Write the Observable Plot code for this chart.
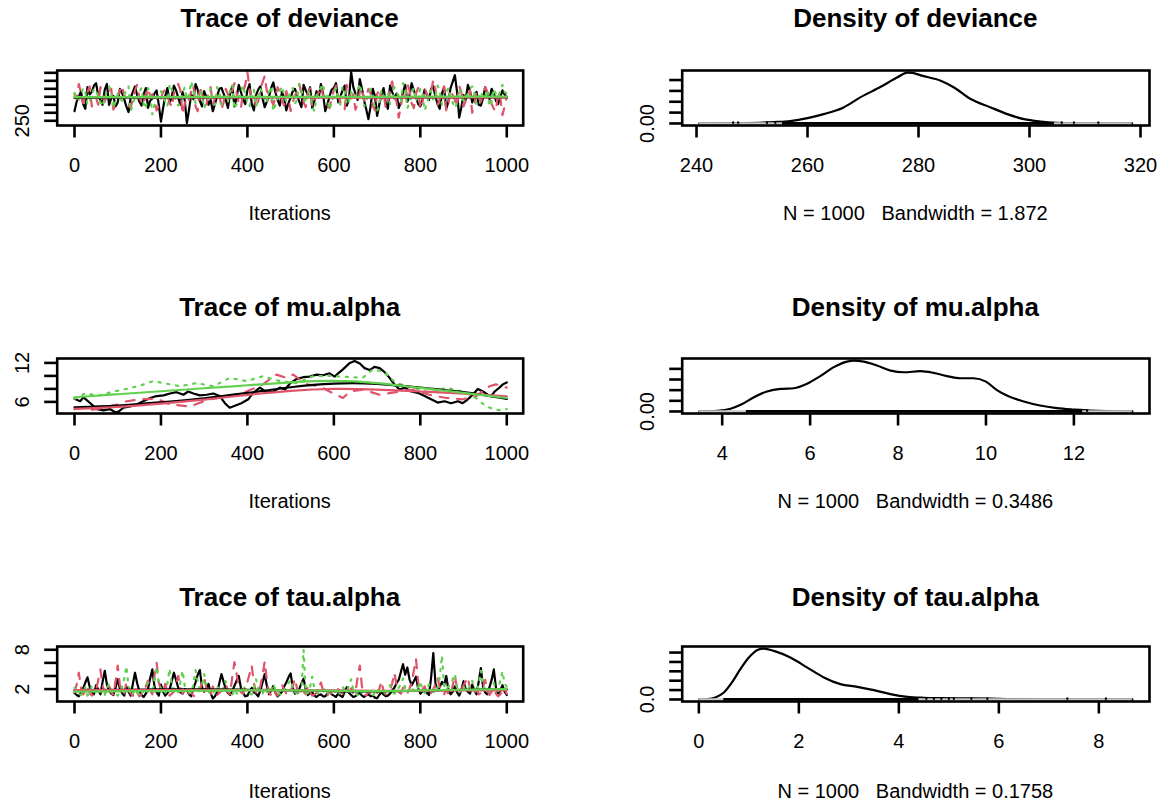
<!DOCTYPE html>
<html><head><meta charset="utf-8">
<script src="https://cdn.jsdelivr.net/npm/d3@7"></script>
<script src="https://cdn.jsdelivr.net/npm/@observablehq/plot@0.6"></script>
<style>
body{margin:0;background:#fff;}
#root{position:relative;width:1174px;height:803px;overflow:hidden;background:#fff;font-family:"Liberation Sans",Arial,sans-serif;}
.t{position:absolute;transform:translate(-50%,-50%);white-space:pre;color:#000;line-height:1;}
.title{font-weight:bold;font-size:26px;}
.lab{font-size:20px;}
</style></head><body><div id="root"></div>
<script>
// ---------------- DATA ----------------
const iterTicks = [0, 200, 400, 600, 800, 1000];
const traceStep = 5;             // thinned iteration spacing of the read-off traces
const smoothIter = [0,100,200,300,400,500,600,700,800,900,1000];

// deviance traces (3 chains)
const devBlack = [262,274,280,287,271,265,292,283,286,294,297,281,276,270,289,296,270,278,281,268,
 273,290,285,277,268,261,279,286,293,282,274,269,283,291,266,275,278,284,288,270,
 249,266,281,291,272,280,294,288,279,270,286,276,247,264,283,277,296,289,275,268,
 287,280,270,276,262,271,281,290,291,284,276,266,284,293,268,279,295,286,277,271,
 288,296,271,263,282,289,293,278,267,274,280,291,298,285,276,269,286,279,263,272,
 279,287,290,282,274,267,295,288,283,292,266,275,287,279,296,284,262,270,281,289,
 291,297,273,280,288,294,269,277,311,292,284,276,302,290,275,264,252,268,290,281,
 256,270,283,291,272,265,294,286,278,284,266,273,286,295,274,282,297,288,280,271,
 268,277,289,283,276,290,293,280,271,265,284,292,265,274,291,299,307,286,254,267,
 282,276,295,287,273,281,286,270,269,278,292,285,277,290,284,275,271,280,288,283,279];
const devRed = [283,277,296,285,272,280,286,293,268,275,279,270,292,284,274,281,285,290,264,272,
 281,288,294,282,276,269,266,278,288,295,279,273,270,284,291,281,283,276,263,270,
 278,286,289,280,273,267,284,291,296,288,258,271,280,276,287,294,268,262,293,283,
 276,269,285,292,271,278,282,287,264,273,290,283,279,288,297,285,272,266,286,295,
 311,290,277,283,266,274,289,298,306,287,283,276,270,281,292,286,275,269,287,279,
 262,273,281,289,296,284,273,267,285,291,268,277,279,286,293,282,276,270,266,278,
 288,294,281,273,271,264,295,286,278,283,264,271,286,292,275,281,290,284,269,263,
 283,290,277,285,266,273,292,299,280,274,254,268,286,279,297,288,272,266,284,291,
 265,273,291,284,278,287,301,289,270,277,285,293,263,270,289,282,276,268,294,285,
 268,275,281,288,260,270,287,279,274,283,292,286,279,271,265,262,286,279,257,268,280];
const devGreen = [285,279,276,283,291,286,270,275,282,290,288,280,273,268,279,287,293,284,266,274,
 284,278,275,282,289,293,262,271,280,277,286,291,271,265,291,283,258,270,278,285,
 287,281,274,268,296,289,281,276,269,274,285,292,277,283,299,288,272,279,288,281,
 266,273,283,290,276,270,292,285,270,277,281,274,288,295,265,271,279,286,294,283,
 273,268,284,289,268,276,290,284,277,272,286,293,262,270,280,287,293,282,274,279,
 285,291,271,277,296,288,279,272,287,283,268,262,282,288,291,296,275,281,264,273,
 284,291,277,270,293,286,270,275,286,281,279,288,296,284,268,275,283,290,274,268,
 262,271,288,281,279,285,271,277,292,286,281,274,297,289,266,272,284,291,275,280,
 290,283,263,270,282,288,276,281,294,287,270,277,285,291,279,273,266,272,289,284,
 275,281,283,290,293,285,271,276,286,280,278,289,268,274,290,283,280,287,295,286,284];
const devSmoothBlack = [278.5,278.8,279.0,279.2,279.4,279.5,279.5,279.4,279.3,279.2,279.1];
const devSmoothRed   = [279.6,279.5,279.4,279.3,279.2,279.1,279.0,279.0,279.1,279.2,279.3];
const devSmoothGreen = [279.5,279.6,279.7,279.8,279.9,279.9,279.9,280.0,280.1,280.2,280.3];

// mu.alpha traces: [iteration, value]
const muBlack = [[0,6.5],[13,6.1],[21,6.7],[40,5.6],[52,4.9],[67,4.7],[82,4.9],[94,4.4],[102,4.5],[113,5.1],
 [129,5.3],[144,5.6],[159,6.1],[175,6.6],[190,6.9],[206,7.0],[221,7.3],[236,7.5],[252,7.1],[263,7.6],
 [275,7.3],[290,7.0],[306,7.1],[321,7.3],[336,6.9],[348,5.8],[359,5.1],[371,5.4],[386,5.8],[402,6.4],
 [413,7.4],[429,8.2],[444,7.5],[460,7.6],[475,8.2],[487,7.9],[498,8.8],[513,9.5],[529,9.8],[544,9.9],
 [560,10.2],[575,10.1],[590,10.4],[602,9.9],[610,10.4],[621,11.0],[637,12.0],[648,12.3],[660,11.9],[671,11.2],
 [683,10.9],[694,11.4],[706,11.2],[717,10.6],[729,9.7],[740,8.7],[752,7.9],[764,8.2],[779,7.6],[794,7.4],
 [810,6.9],[825,6.4],[840,5.9],[856,6.1],[871,5.8],[887,6.1],[898,5.8],[910,6.4],[921,7.1],[933,8.0],
 [945,7.6],[956,7.1],[964,6.9],[972,7.6],[983,8.2],[991,8.7],[1000,9.0]];
const muRed = [[0,4.9],[20,5.1],[40,4.8],[52,4.9],[80,5.3],[100,5.6],[121,6.1],[152,6.4],[190,6.5],[221,5.6],
 [267,5.3],[313,6.4],[359,6.9],[398,7.6],[436,8.7],[467,10.2],[490,9.7],[506,10.2],[536,8.7],[568,8.4],
 [590,7.6],[621,6.6],[637,7.6],[667,7.9],[706,7.1],[744,7.5],[783,7.9],[821,7.1],[860,6.6],[898,6.4],
 [929,6.9],[960,8.4],[975,8.7],[1000,8.2]];
const muGreen = [[0,6.5],[28,7.4],[52,6.9],[90,7.6],[120,8.0],[152,8.5],[182,9.2],[206,8.9],[244,8.4],[283,8.9],
 [321,8.4],[359,9.7],[398,9.2],[436,9.95],[475,9.2],[513,8.9],[552,9.95],[590,10.0],[629,9.85],[667,9.7],
 [690,11.0],[714,10.7],[744,8.9],[783,8.2],[821,7.4],[860,8.2],[898,7.6],[929,6.6],[952,5.3],[975,4.8],
 [991,4.7],[1000,4.9]];
const muSmoothBlack = [5.18,5.44,5.95,6.56,7.38,8.26,8.82,8.77,8.2,7.5,6.46];
const muSmoothRed   = [4.92,5.23,5.74,6.36,7.08,7.7,8.0,7.9,7.6,7.28,6.87];
const muSmoothGreen = [6.72,7.18,7.64,8.1,8.56,9.0,9.23,8.9,8.15,7.4,6.6];

// tau.alpha traces (3 chains)
const tauBlack = [1.4,1.1,0.9,1.5,2.1,3.0,3.8,2.4,1.6,1.2,2.6,1.9,1.2,3.1,4.8,2.7,1.8,1.3,1.1,2.2,
 3.5,2.1,1.4,1.0,2.4,1.6,1.0,2.8,4.5,2.9,1.7,1.1,0.8,1.3,2.0,3.6,5.0,2.4,1.5,1.0,
 2.7,1.6,1.0,1.4,1.9,3.2,4.5,3.4,2.2,1.5,1.3,2.0,1.8,1.2,0.9,2.1,3.0,4.2,4.9,2.3,
 1.6,2.1,2.8,1.4,0.55,0.9,1.5,2.9,4.3,3.1,2.0,1.4,1.1,1.7,2.5,3.3,4.0,2.2,1.4,0.9,
 1.0,1.6,2.2,1.5,1.3,0.9,1.8,3.0,4.3,2.5,1.2,1.8,2.5,1.4,0.9,1.2,1.6,2.4,3.0,3.8,
 4.4,2.2,1.3,1.7,2.0,2.9,3.6,1.9,1.1,1.4,1.5,1.0,0.8,1.1,1.2,0.9,0.9,1.3,1.6,1.2,
 1.0,0.8,1.3,1.0,0.8,1.6,2.3,1.4,1.1,0.8,0.9,1.2,1.4,1.0,0.8,1.1,1.2,0.9,1.0,0.7,
 0.6,1.1,1.5,1.2,0.9,1.0,1.3,1.8,2.2,2.9,3.4,4.6,5.8,4.2,5.3,3.5,2.6,3.2,3.9,2.1,
 1.3,1.7,2.1,1.4,1.1,3.8,7.5,2.9,1.8,2.3,3.1,2.6,4.0,1.9,1.2,1.6,2.4,1.5,1.0,1.9,
 3.2,2.0,1.6,1.3,2.7,1.8,1.2,3.1,5.2,2.4,1.5,1.2,2.3,3.4,5.0,2.2,1.3,1.8,2.6,1.6,1.1];
const tauRed = [1.5,2.7,4.5,2.2,1.2,1.6,2.3,1.4,1.0,1.3,1.8,3.4,5.0,2.5,1.4,1.9,2.6,1.5,1.1,3.2,
 5.6,2.6,1.7,1.2,3.0,2.1,1.3,1.0,2.0,1.5,0.9,1.2,1.6,2.4,3.3,1.8,1.2,4.1,6.0,3.0,
 1.9,1.4,2.8,1.7,1.0,1.3,1.6,2.6,4.0,2.3,1.3,1.8,2.2,1.3,1.5,1.0,0.8,1.2,1.9,2.8,
 3.8,2.2,1.4,1.1,2.4,1.6,1.1,1.4,1.7,2.2,2.9,1.6,1.2,3.9,6.1,4.4,2.0,1.5,1.3,2.1,
 3.1,4.3,5.6,2.9,1.5,1.2,2.5,4.1,6.2,3.3,1.4,1.1,1.9,1.4,1.0,1.8,2.7,1.9,1.3,1.1,
 1.8,2.5,3.6,2.0,1.1,1.4,1.6,1.2,2.4,1.5,1.0,1.2,1.4,2.1,3.0,1.8,1.2,1.0,1.8,1.3,
 1.0,1.4,2.0,1.6,1.3,1.0,1.1,1.5,2.1,1.3,1.5,3.8,5.6,2.4,1.2,1.0,1.7,1.3,1.0,1.2,
 1.4,2.0,3.2,1.7,1.2,1.5,1.8,2.9,4.5,2.6,1.6,1.3,2.2,1.5,1.3,2.1,3.0,4.8,6.6,3.1,
 1.5,1.9,2.4,1.5,1.1,1.4,2.0,2.7,3.7,2.3,1.4,1.2,1.9,1.3,1.0,2.6,4.0,2.2,1.6,1.9,
 2.6,3.2,3.8,2.0,1.2,1.5,1.9,1.2,1.4,2.3,3.4,1.8,1.1,1.6,2.2,1.3,0.9,1.2,1.7,2.0,1.3];
const tauGreen = [2.2,1.6,1.3,1.1,1.7,2.3,1.0,1.4,2.5,1.9,1.4,1.2,1.9,1.5,1.1,2.0,2.8,1.7,1.5,1.2,
 1.0,1.6,2.3,3.6,5.5,2.4,1.6,1.3,2.0,1.5,1.2,1.0,1.8,2.2,3.0,1.9,1.4,3.1,5.4,2.8,
 2.1,1.5,1.3,2.9,5.1,2.6,1.9,1.3,1.5,3.0,4.8,2.5,2.2,1.6,1.4,2.7,4.9,3.2,2.0,2.6,
 4.3,2.1,1.6,1.3,1.2,1.8,2.5,1.7,1.5,2.1,3.2,1.8,1.3,1.1,2.0,1.4,1.1,1.6,2.6,2.0,
 1.8,1.3,1.2,2.1,3.5,2.2,1.5,1.2,2.2,1.6,1.3,1.9,2.8,1.8,1.6,1.2,1.1,1.7,2.4,2.9,
 3.4,2.1,1.5,1.3,2.0,1.6,8.0,1.3,1.4,2.3,3.9,2.0,1.7,1.3,1.2,1.6,2.1,1.4,1.5,1.2,
 1.8,1.4,1.1,1.5,2.4,1.8,1.6,2.5,3.5,1.9,1.3,1.1,1.9,1.4,1.2,1.6,1.7,1.3,1.0,1.5,
 2.0,1.6,1.4,1.2,1.8,2.2,2.6,1.7,1.3,1.6,2.2,2.8,3.6,2.1,1.5,1.9,2.4,1.6,1.7,2.3,
 3.1,1.9,1.4,2.0,2.7,1.8,1.6,1.4,2.3,3.9,7.1,2.6,1.9,2.4,2.8,3.5,4.3,2.1,1.5,1.8,
 2.5,1.7,1.8,2.6,3.3,1.9,1.4,2.8,4.8,2.5,2.0,1.5,1.6,2.2,2.9,1.8,1.7,3.4,4.7,2.9,2.3];
const tauSmoothBlack = [1.85,1.9,1.95,1.95,1.9,1.8,1.7,1.65,1.75,1.9,2.0];
const tauSmoothRed   = [1.85,1.85,1.85,1.85,1.85,1.8,1.8,1.75,1.75,1.8,1.8];
const tauSmoothGreen = [1.6,1.65,1.7,1.75,1.8,1.8,1.75,1.7,1.8,1.9,2.0];

// densities
const devDensX = [240.5,247.9,253.9,256.9,260,262.9,266.5,269.5,273.2,276.2,278,278.9,280.4,284,286.4,289.4,293,296,299,302,305,308,318.5];
const devDensY = [0,0.0003,0.0012,0.0022,0.0049,0.0086,0.0148,0.024,0.0338,0.0425,0.0469,0.0466,0.0443,0.0394,0.0332,0.0225,0.0148,0.0086,0.004,0.0018,0.0006,0.0002,0];
const muDensX = [3.48,3.89,4.19,4.42,4.72,5.02,5.33,5.63,5.93,6.23,6.54,6.84,6.99,7.22,7.52,7.83,8.13,8.51,8.81,9.11,9.42,9.72,10.0,10.25,10.5,10.86,11.23,11.61,12.0,12.37,13.33];
const muDensY = [0,0.003,0.0125,0.031,0.067,0.094,0.106,0.109,0.13,0.166,0.208,0.234,0.239,0.234,0.216,0.192,0.184,0.189,0.181,0.166,0.156,0.156,0.14,0.10,0.072,0.047,0.028,0.016,0.009,0.004,0];
const tauDensX = [0.01,0.17,0.33,0.5,0.67,0.83,1.0,1.17,1.3,1.5,1.83,2.17,2.5,2.83,3.17,3.5,3.83,4.17,4.5,4.83,5.5,6.17,6.83,7.5,8.67];
const tauDensY = [0,0.004,0.021,0.074,0.188,0.323,0.447,0.528,0.543,0.518,0.447,0.34,0.234,0.163,0.135,0.099,0.057,0.028,0.018,0.014,0.011,0.005,0.002,0.001,0];

// observation rugs: dense ranges and isolated marks
const devRugBands = [[255.5,304.5]];
const devRugTicks = [246.6,247.5,252.7,254.2,305.8,308,312.4];
const muRugBands = [[4.55,12.2]];
const muRugTicks = [12.3];
const tauRugBands = [[0.5,4.4]];
const tauRugTicks = [4.55,4.7,4.85,5.0,5.1,5.45,5.77,7.37,8.14];

const titles = ["Trace of deviance","Density of deviance","Trace of mu.alpha","Density of mu.alpha","Trace of tau.alpha","Density of tau.alpha"];
const densLabels = ["N = 1000   Bandwidth = 1.872","N = 1000   Bandwidth = 0.3486","N = 1000   Bandwidth = 0.1758"];

// ---------------- LAYOUT / STYLE ----------------
const root = document.getElementById("root");
const COLORS = ["#000000", "#DF536B", "#61D04F"];
const DASH = [null, "8.8 8.8", "2.2 6.6"];
const LW = 2.2, FW = 2.6, TICK = 12.5;
const boxTop = [70, 357.5, 645.7], BOXH = 55;
const titleY = [18.3, 306.7, 596.7], xlabY = [212.5, 501, 791];
const LEFT = {x: 0, w: 587, ml: 56.7, mr: 64.3};
const RIGHT = {x: 587, w: 587, ml: 94.7, mr: 25};
const style = {background: "none", fontFamily: "'Liberation Sans', Arial, sans-serif", fontSize: "20px", color: "black", overflow: "visible"};

function place(svg, left, top) {
  svg.style.position = "absolute"; svg.style.left = left + "px"; svg.style.top = top + "px";
  root.appendChild(svg);
}
function label(txt, x, y, cls) {
  const d = document.createElement("div"); d.className = "t " + cls; d.textContent = txt;
  d.style.left = x + "px"; d.style.top = y + "px"; root.appendChild(d);
}
const rows = (vals) => vals.map((v, i) => ({it: i * traceStep, v}));
const pairRows = (arr) => arr.map(([it, v]) => ({it, v}));
const smRows = (vals) => vals.map((v, i) => ({it: smoothIter[i], v}));

function yLabelMark(vals, texts) {
  return Plot.text(vals, {y: d => d, text: (d, i) => texts[i], frameAnchor: "left", dx: -28.5,
    rotate: -90, textAnchor: "middle", lineAnchor: "bottom", fontSize: 20, fill: "black"});
}

function tracePanel(r, chains, smooths, yDomain, yTicks, yLabVals, yLabTexts) {
  const marks = [];
  chains.forEach((data, k) => marks.push(Plot.line(data, {x: "it", y: "v", stroke: COLORS[k], strokeWidth: LW,
    strokeDasharray: DASH[k], strokeLinecap: "round", strokeLinejoin: "round"})));
  smooths.forEach((data, k) => marks.push(Plot.line(data, {x: "it", y: "v", stroke: COLORS[k], strokeWidth: LW, curve: "natural"})));
  marks.push(Plot.axisX({ticks: iterTicks, tickFormat: "d", tickSize: TICK, tickPadding: 19.5, strokeWidth: FW, fontSize: 20, label: null}));
  marks.push(Plot.axisY({ticks: yTicks, tickFormat: () => "", tickSize: TICK, strokeWidth: FW, label: null}));
  marks.push(yLabelMark(yLabVals, yLabTexts));
  marks.push(Plot.frame({strokeWidth: FW}));
  const svg = Plot.plot({width: LEFT.w, height: BOXH + 120, marginLeft: LEFT.ml, marginRight: LEFT.mr,
    marginTop: 60, marginBottom: 60, style,
    x: {domain: [-40, 1038], label: null}, y: {domain: yDomain, label: null}, marks});
  place(svg, LEFT.x, boxTop[r] - 60);
}

function densPanel(r, xs, ys, xDomain, xTicks, yDomain, yTicks, yLab, bands, ticks) {
  const pts = xs.map((x, i) => ({x, y: ys[i]}));
  const M = d3.max(ys);
  const marks = [
    Plot.line(pts, {x: "x", y: "y", stroke: "black", strokeWidth: LW, curve: "monotone-x"}),
    Plot.ruleY([0], {x1: () => xs[0], x2: () => xs[xs.length - 1], stroke: "#c8c8c8", strokeWidth: 2.4}),
    Plot.ruleY(bands, {x1: d => d[0], x2: d => d[1], y: () => 0, stroke: "black", strokeWidth: 2.8}),
    Plot.ruleX(ticks, {x: d => d, y1: () => 0, y2: () => M * 0.01, stroke: "black", strokeWidth: LW, strokeLinecap: "round"}),
    Plot.axisX({ticks: xTicks, tickSize: TICK, tickPadding: 19.5, strokeWidth: FW, fontSize: 20, label: null}),
    Plot.axisY({ticks: yTicks, tickFormat: () => "", tickSize: TICK, strokeWidth: FW, label: null}),
    yLabelMark([0], [yLab]),
    Plot.frame({strokeWidth: FW})
  ];
  const svg = Plot.plot({width: RIGHT.w, height: BOXH + 120, marginLeft: RIGHT.ml, marginRight: RIGHT.mr,
    marginTop: 60, marginBottom: 60, style,
    x: {domain: xDomain, label: null}, y: {domain: yDomain, label: null}, marks});
  place(svg, RIGHT.x, boxTop[r] - 60);
}

// row 1: deviance
tracePanel(0, [rows(devBlack), rows(devRed), rows(devGreen)],
  [smRows(devSmoothBlack), smRows(devSmoothRed), smRows(devSmoothGreen)],
  [244.1, 312.9], [250,260,270,280,290,300,310], [250], ["250"]);
densPanel(0, devDensX, devDensY, [237.42, 321.62], [240,260,280,300,320],
  [-0.00188, 0.0488], [0,0.01,0.02,0.03,0.04], "0.00", devRugBands, devRugTicks);
// row 2: mu.alpha
tracePanel(1, [pairRows(muBlack), pairRows(muRed), pairRows(muGreen)],
  [smRows(muSmoothBlack), smRows(muSmoothRed), smRows(muSmoothGreen)],
  [4.215, 12.68], [6,8,10,12], [6,12], ["6","12"]);
densPanel(1, muDensX, muDensY, [3.09, 13.72], [4,6,8,10,12],
  [-0.00956, 0.2486], [0,0.05,0.1,0.15,0.2], "0.00", muRugBands, muRugTicks);
// row 3: tau.alpha
tracePanel(2, [rows(tauBlack), rows(tauRed), rows(tauGreen)],
  [smRows(tauSmoothBlack), smRows(tauSmoothRed), smRows(tauSmoothGreen)],
  [0.107, 8.5], [2,4,6,8], [2,8], ["2","8"]);
densPanel(2, tauDensX, tauDensY, [-0.333, 9.013], [0,2,4,6,8],
  [-0.0217, 0.5647], [0,0.1,0.2,0.3,0.4,0.5], "0.0", tauRugBands, tauRugTicks);

// titles and axis captions
const cxL = (LEFT.ml + (LEFT.w - LEFT.mr)) / 2 + LEFT.x;
const cxR = (RIGHT.ml + (RIGHT.w - RIGHT.mr)) / 2 + RIGHT.x;
for (let r = 0; r < 3; r++) {
  label(titles[2 * r], cxL, titleY[r], "title");
  label(titles[2 * r + 1], cxR, titleY[r], "title");
  label("Iterations", cxL, xlabY[r], "lab");
  label(densLabels[r], cxR, xlabY[r], "lab");
}
</script></body></html>
